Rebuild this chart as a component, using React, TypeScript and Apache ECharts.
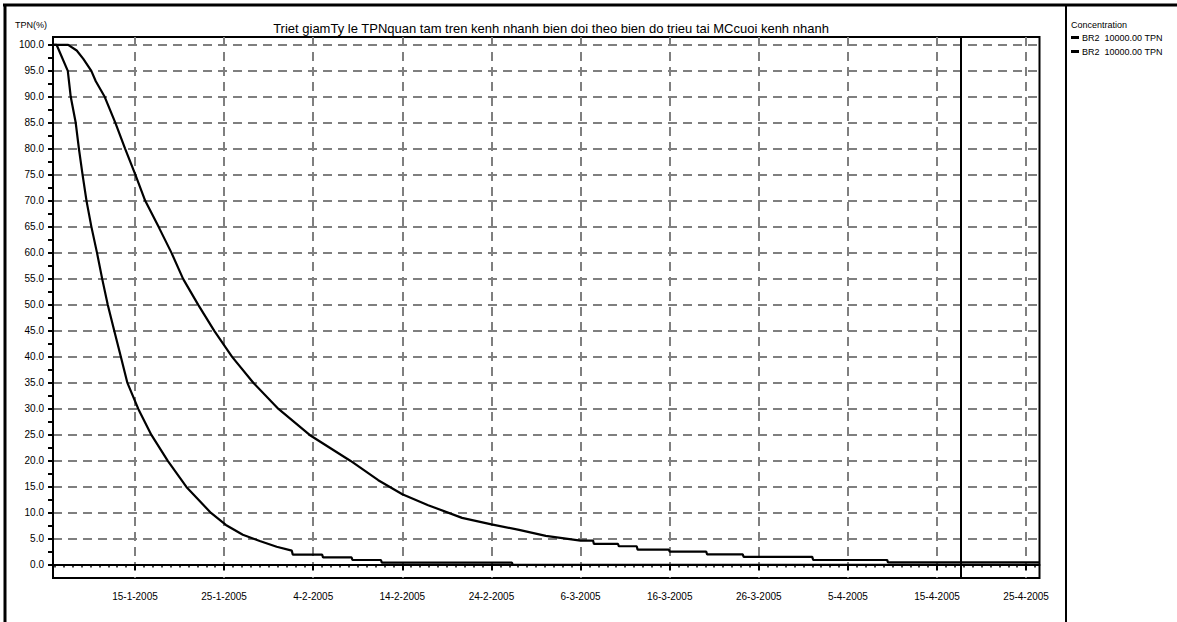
import React, { useEffect, useRef } from 'react';
import * as echarts from 'echarts';

const titleText = 'Triet giamTy le TPNquan tam tren kenh nhanh bien doi theo bien do trieu tai MCcuoi kenh nhanh';
const yAxisTitle = 'TPN(%)';
const legendTitle = 'Concentration';
const seriesNames = ['BR2  10000.00 TPN', 'BR2  10000.00 TPN '];

// x values are days counted from 5-1-2005
const xMin = 0.8;
const xMax = 111.5;
const yMin = -2.5;
const yMax = 101.5;
const dateTickDays = [10, 20, 30, 40, 50, 60, 70, 80, 90, 100, 110];
const dateTickLabels = ['15-1-2005', '25-1-2005', '4-2-2005', '14-2-2005', '24-2-2005', '6-3-2005', '16-3-2005', '26-3-2005', '5-4-2005', '15-4-2005', '25-4-2005'];
const yTickValues = [0, 5, 10, 15, 20, 25, 30, 35, 40, 45, 50, 55, 60, 65, 70, 75, 80, 85, 90, 95, 100];
const yMinorTickValues = [2.5, 7.5, 12.5, 17.5, 22.5, 27.5, 32.5, 37.5, 42.5, 47.5, 52.5, 57.5, 62.5, 67.5, 72.5, 77.5, 82.5, 87.5, 92.5, 97.5];
const markerDay = 102.7;

// fast decaying curve [day, %]
const curveFast: [number, number][] = [
  [0.8, 100], [1.2, 100], [2.46, 95], [2.79, 90], [3.35, 85], [3.71, 80], [4.12, 75], [4.56, 70],
  [5.11, 65], [5.74, 60], [6.32, 55], [6.95, 50], [7.68, 45], [8.42, 40], [9.15, 35], [10.37, 30],
  [11.84, 25], [13.68, 20], [15.77, 15], [18.53, 10], [20.2, 7.7], [22.1, 5.8], [24, 4.6], [25.9, 3.5],
  [27.6, 2.75], [27.7, 2.0], [31.0, 2.0], [31.1, 1.46], [34.3, 1.46], [34.4, 0.96], [37.6, 0.96],
  [37.7, 0.44], [52.3, 0.44], [52.4, 0.03], [111.5, 0.03],
];

// slow decaying curve [day, %]
const curveSlow: [number, number][] = [
  [0.8, 100], [2.5, 100], [3.46, 98.9], [4.2, 97.3], [5.1, 95], [5.6, 93], [6.6, 90], [7.8, 85],
  [8.9, 80], [10.05, 75], [11.15, 70], [12.65, 65], [14.1, 60], [15.4, 55], [17.1, 50], [18.9, 45],
  [20.9, 40], [23.3, 35], [26.1, 30], [29.6, 25], [34.2, 20], [37.3, 16.3], [40, 13.6], [42.9, 11.5],
  [46.7, 9.06], [50, 7.8], [53.1, 6.75], [56.1, 5.6], [60, 4.7], [61.4, 4.7], [61.5, 4.05], [64.2, 4.05],
  [64.3, 3.6], [66.3, 3.6], [66.4, 2.95], [69.9, 2.95], [70.0, 2.56], [74.1, 2.56], [74.2, 2.06],
  [78.2, 2.06], [78.3, 1.56], [86.0, 1.56], [86.1, 0.96], [94.4, 0.96], [94.5, 0.5], [111.5, 0.5],
];

const dailyTicks: number[] = [];
for (let d = 1; d <= 111; d++) dailyTicks.push(d);

const FONT = 'Arial, "Liberation Sans", sans-serif';
const GRID_COLOR = '#7f7f7f';

export default function App() {
  const ref = useRef<HTMLDivElement>(null);
  useEffect(() => {
    if (!ref.current) return;
    const chart = echarts.init(ref.current, undefined, { renderer: 'svg' });
    const dashed = { show: true, lineStyle: { color: GRID_COLOR, width: 2, type: [9, 6] as any } };
    chart.setOption({
      animation: false,
      backgroundColor: '#fff',
      textStyle: { fontFamily: FONT, color: '#000' },
      title: {
        text: titleText,
        left: 546,
        top: 17,
        padding: 5,
        textAlign: 'center',
        textStyle: { fontSize: 13, fontWeight: 'normal', color: '#000', fontFamily: FONT },
      },
      legend: {
        orient: 'vertical',
        left: 1071,
        top: 33,
        padding: 0,
        itemGap: 5,
        itemWidth: 8,
        itemHeight: 3,
        icon: 'rect',
        data: seriesNames,
        formatter: (n: string) => n.trim(),
        textStyle: { fontSize: 9, color: '#000', fontFamily: FONT, padding: [0, 0, 0, -2] },
      },
      grid: {
        left: 53,
        right: 137.5,
        top: 37,
        bottom: 44,
        show: true,
        borderColor: '#000',
        borderWidth: 2,
        backgroundColor: 'transparent',
      },
      xAxis: [
        {
          type: 'value',
          min: xMin,
          max: xMax,
          position: 'bottom',
          axisLine: { show: true, lineStyle: { color: '#000', width: 2 } },
          axisTick: { show: true, customValues: dateTickDays, length: 5, lineStyle: { color: '#000', width: 2 } },
          axisLabel: {
            customValues: dateTickDays,
            margin: 13,
            fontSize: 10,
            color: '#000',
            fontFamily: FONT,
            formatter: (v: number) => {
              const i = dateTickDays.indexOf(Math.round(v));
              return i >= 0 ? dateTickLabels[i] : '';
            },
          },
          splitLine: dashed,
        },
        {
          type: 'value',
          min: xMin,
          max: xMax,
          position: 'bottom',
          axisLine: { show: false },
          axisTick: { show: true, customValues: dailyTicks, length: 2.5, lineStyle: { color: '#000', width: 1.5 } },
          axisLabel: { show: false },
          splitLine: { show: false },
        },
      ],
      yAxis: [
        {
          type: 'value',
          min: yMin,
          max: yMax,
          position: 'left',
          axisLine: { show: true, lineStyle: { color: '#000', width: 2 } },
          axisTick: { show: true, customValues: yTickValues, length: 5, lineStyle: { color: '#000', width: 2 } },
          axisLabel: {
            customValues: yTickValues,
            margin: 9,
            fontSize: 10,
            color: '#000',
            fontFamily: FONT,
            formatter: (v: number) => v.toFixed(1),
          },
          splitLine: dashed,
        },
        {
          type: 'value',
          min: yMin,
          max: yMax,
          position: 'left',
          axisLine: { show: false },
          axisTick: { show: true, customValues: yMinorTickValues, length: 5, lineStyle: { color: '#000', width: 2 } },
          axisLabel: { show: false },
          splitLine: { show: false },
        },
      ],
      series: [
        {
          name: seriesNames[0],
          type: 'line',
          xAxisIndex: 0,
          yAxisIndex: 0,
          data: curveFast,
          showSymbol: false,
          symbol: 'none',
          itemStyle: { color: '#000' },
          lineStyle: { color: '#000', width: 2.2 },
          z: 5,
          markLine: {
            silent: true,
            symbol: 'none',
            label: { show: false },
            lineStyle: { color: '#000', width: 2, type: 'solid' },
            data: [{ xAxis: markerDay }],
          },
        },
        {
          name: seriesNames[1],
          type: 'line',
          xAxisIndex: 0,
          yAxisIndex: 0,
          data: curveSlow,
          showSymbol: false,
          symbol: 'none',
          itemStyle: { color: '#000' },
          lineStyle: { color: '#000', width: 2.2 },
          z: 5,
        },
      ],
      graphic: [
        { type: 'line', shape: { x1: 3, y1: 5, x2: 1177, y2: 5 }, style: { stroke: '#000', lineWidth: 3 } },
        { type: 'line', shape: { x1: 5, y1: 4, x2: 5, y2: 622 }, style: { stroke: '#000', lineWidth: 3 } },
        { type: 'line', shape: { x1: 1066, y1: 5, x2: 1066, y2: 622 }, style: { stroke: '#000', lineWidth: 2 } },
        {
          type: 'text',
          left: 15,
          top: 20,
          style: { text: yAxisTitle, fontSize: 9, fill: '#000', fontFamily: FONT },
        },
        {
          type: 'text',
          left: 1071,
          top: 20,
          style: { text: legendTitle, fontSize: 9, fill: '#000', fontFamily: FONT },
        },
      ],
    });
    return () => chart.dispose();
  }, []);
  return <div ref={ref} style={{ position: 'absolute', left: 0, top: 0, width: 1177, height: 622 }} />;
}
